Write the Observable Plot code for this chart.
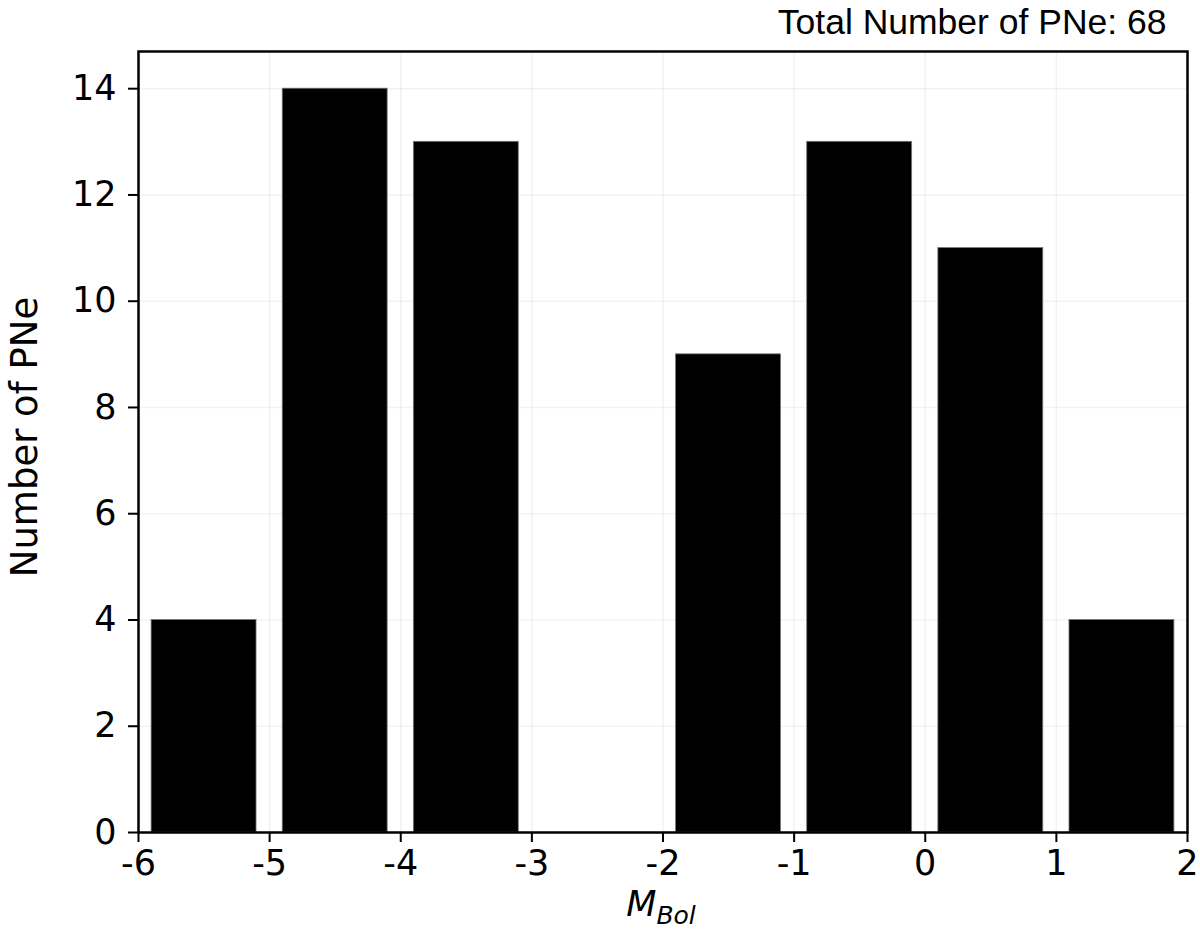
<!DOCTYPE html>
<html>
<head>
<meta charset="utf-8">
<script src="https://cdn.jsdelivr.net/npm/d3@7"></script>
<script src="https://cdn.jsdelivr.net/npm/@observablehq/plot@0.6"></script>
<style>
  html, body { margin: 0; padding: 0; background: #fff; }
  #chart svg { display: block; }
</style>
</head>
<body>
<div id="chart"></div>
<script>
// Histogram of bolometric magnitudes (bin lower edges, upper edges, counts)
const binStart = [-6, -5, -4, -3, -2, -1, 0, 1];
const binEnd   = [-5, -4, -3, -2, -1, 0, 1, 2];
const counts   = [4, 14, 13, 0, 9, 13, 11, 4];
const xTicks = [-6, -5, -4, -3, -2, -1, 0, 1, 2];
const yTicks = [0, 2, 4, 6, 8, 10, 12, 14];
const titleText = "Total Number of PNe: 68";
const yLabel = "Number of PNe";

const data = binStart.map((s, i) => ({x0: s, x1: binEnd[i], n: counts[i]}));

const tickFont = "DejaVu Sans";
const plot = Plot.plot({
  width: 1200,
  height: 932,
  marginLeft: 138,
  marginRight: 13,
  marginTop: 51,
  marginBottom: 100,
  style: {fontFamily: tickFont, fontSize: "35px", color: "black", background: "white"},
  x: {domain: [-6, 2], ticks: xTicks, tickFormat: d => String(d)},
  y: {domain: [0, 14.7], ticks: yTicks, tickFormat: d => String(d)},
  marks: [
    Plot.gridX(xTicks, {stroke: "#000", strokeOpacity: 0.05, strokeWidth: 1.5}),
    Plot.gridY(yTicks, {stroke: "#000", strokeOpacity: 0.05, strokeWidth: 1.5}),
    Plot.rectY(data.filter(d => d.n > 0), {
      x1: "x0", x2: "x1", y1: 0, y2: "n",
      fill: "black", stroke: "#777", strokeWidth: 0.8,
      insetLeft: 13.1, insetRight: 13.1
    }),
    Plot.axisX({ticks: xTicks, tickFormat: d => String(d), tickSize: 10, tickPadding: 8, strokeWidth: 2, fontSize: 35, label: null}),
    Plot.axisY({ticks: yTicks, tickFormat: d => String(d), tickSize: 10, tickPadding: 12, strokeWidth: 2, fontSize: 35, label: null}),
    Plot.frame({stroke: "black", strokeWidth: 2.5}),
    Plot.text([titleText], {
      frameAnchor: "top-right", text: d => d, textAnchor: "end", lineAnchor: "bottom",
      dx: -21, dy: -18, fontSize: 35.5, fontFamily: "Liberation Sans", fill: "black"
    })
  ]
});

document.getElementById("chart").appendChild(plot);

// Axis labels (rotated y label and math-style x label with subscript)
const svg = d3.select(plot);
svg.append("text")
  .attr("transform", "translate(37,437) rotate(-90)")
  .attr("text-anchor", "middle")
  .attr("font-family", "DejaVu Sans")
  .attr("font-size", 37)
  .attr("fill", "black")
  .text(yLabel);

const xl = svg.append("text")
  .attr("x", 661)
  .attr("y", 916)
  .attr("text-anchor", "middle")
  .attr("font-family", "DejaVu Sans")
  .attr("font-style", "italic")
  .attr("font-size", 35)
  .attr("fill", "black");
xl.append("tspan").text("M");
xl.append("tspan").attr("font-size", 25).attr("dy", 8).text("Bol");
</script>
</body>
</html>
